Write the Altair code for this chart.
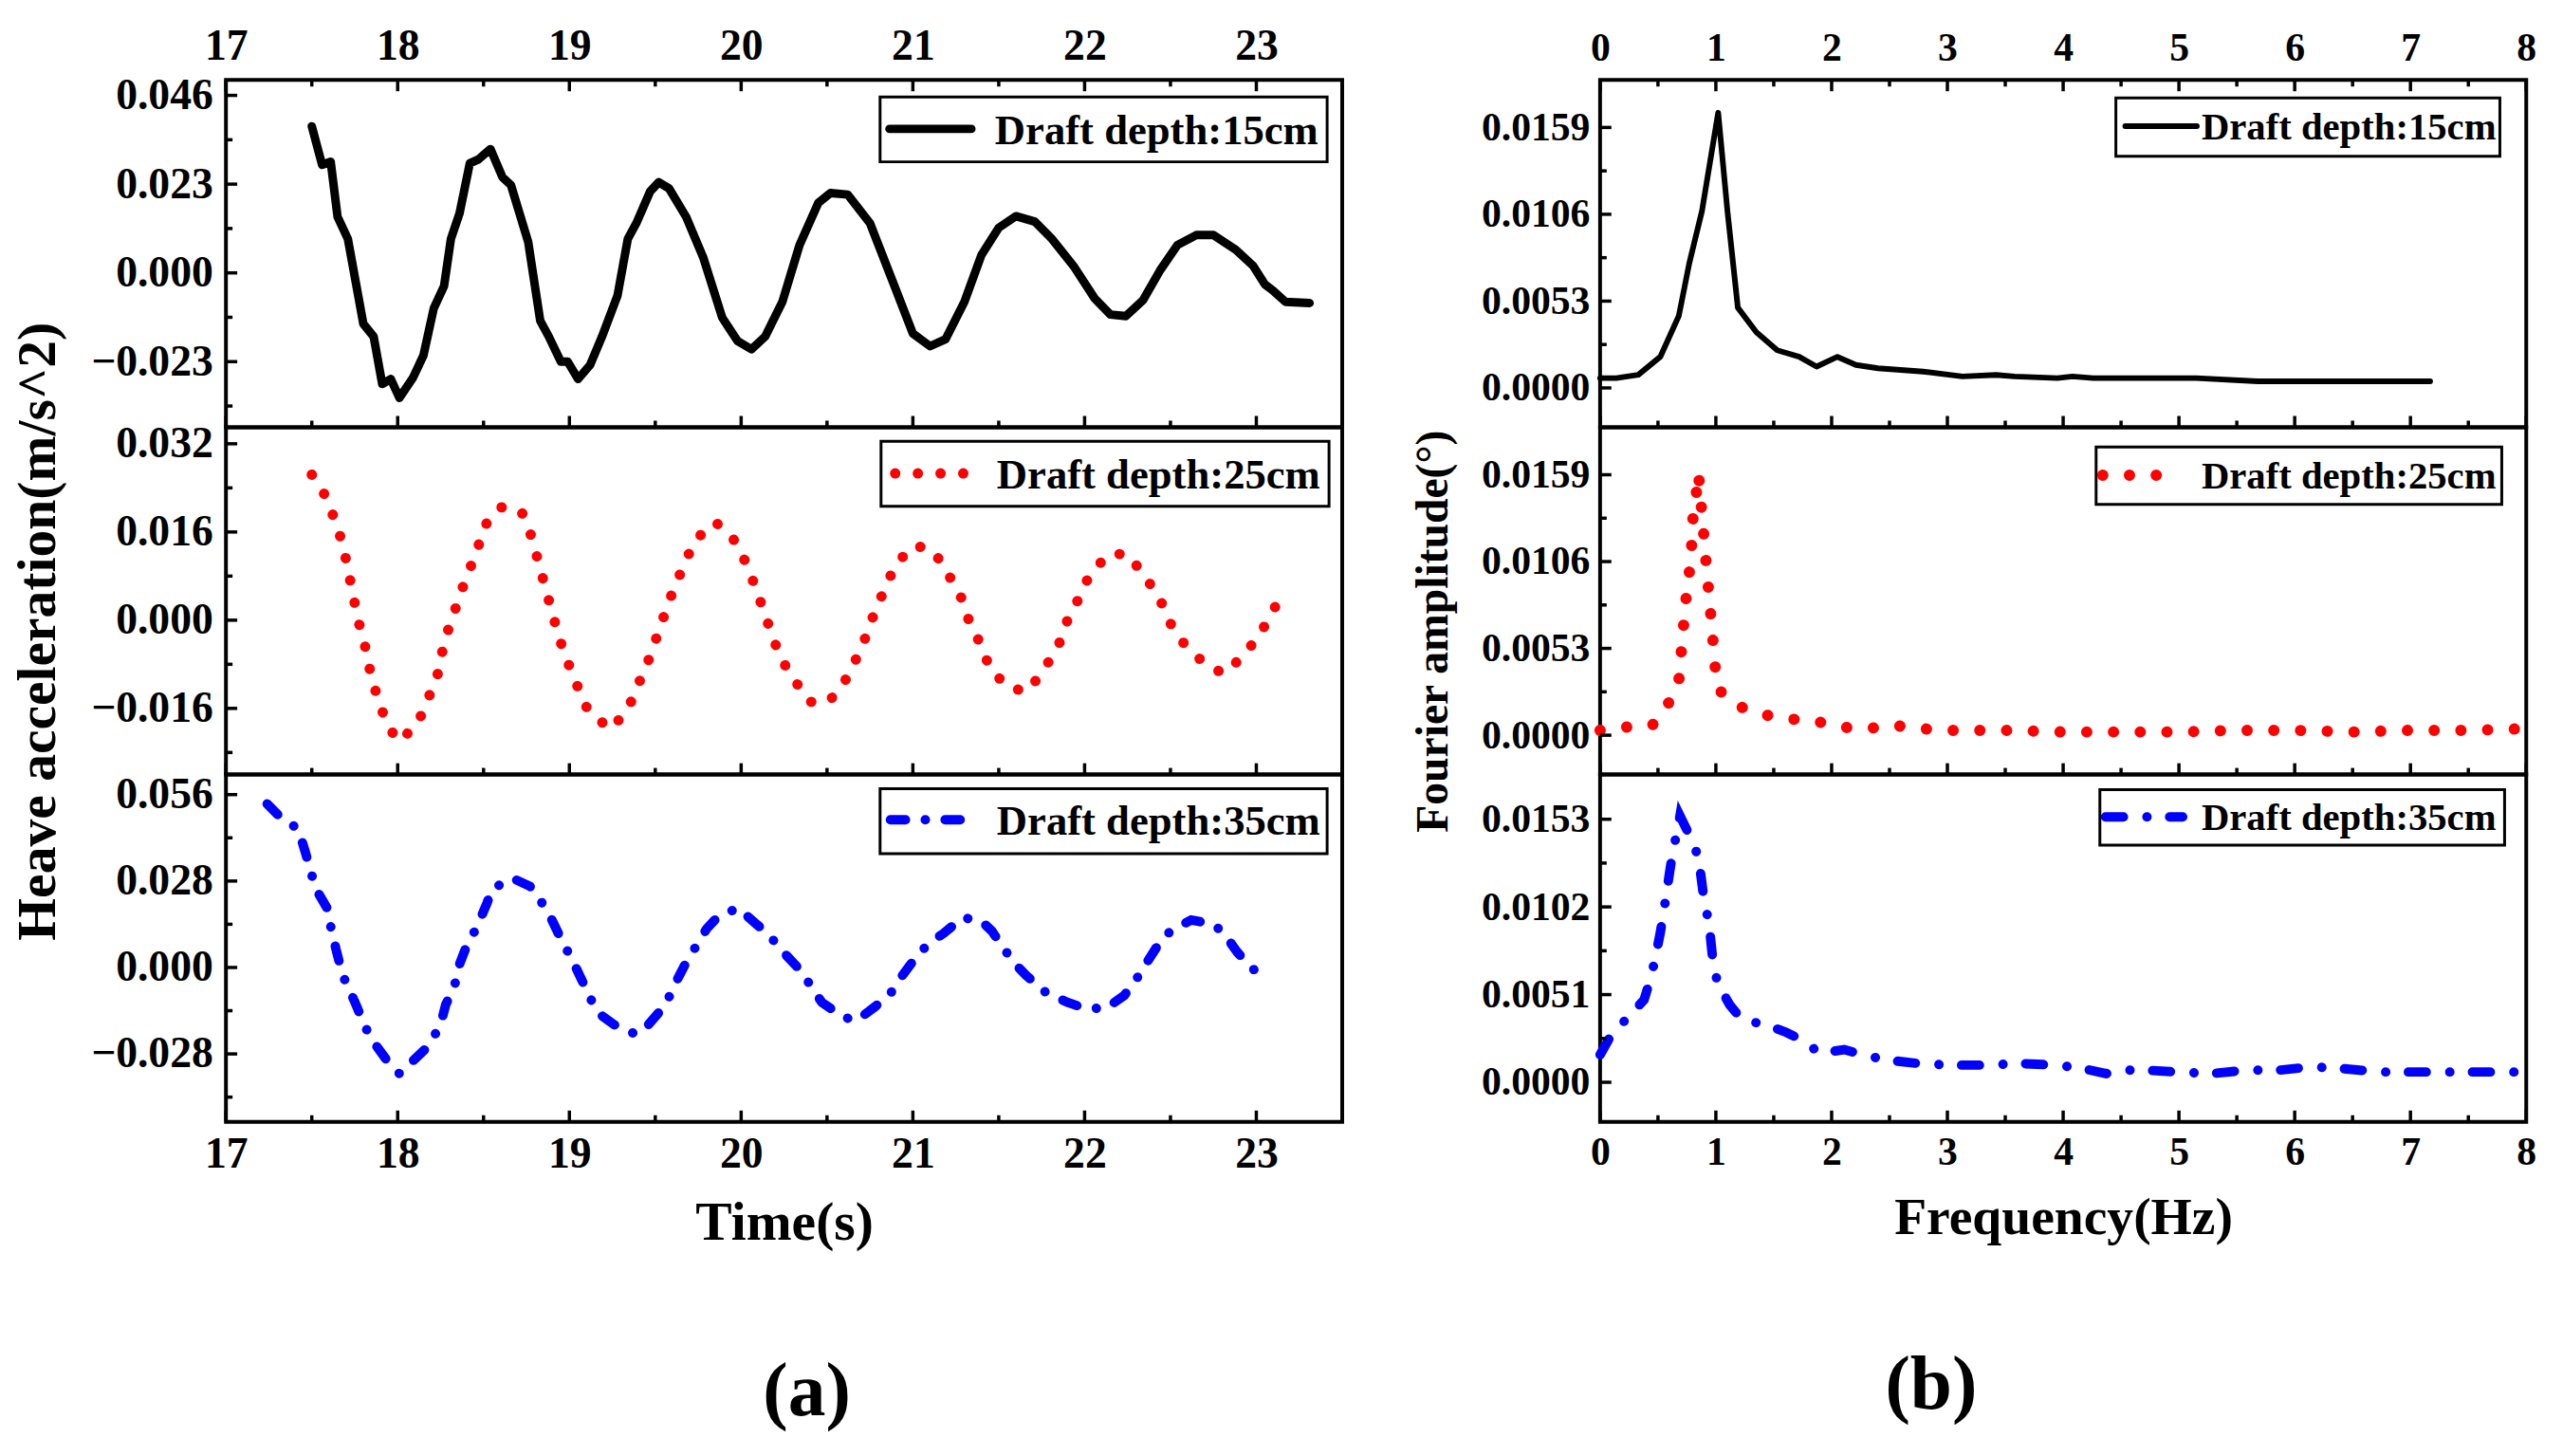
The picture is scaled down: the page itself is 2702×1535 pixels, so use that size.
import altair as alt
import pandas as pd

SERIF = "Liberation Serif"

# ---- (a) heave acceleration time histories ----
t15 = [17.50, 17.56, 17.61, 17.65, 17.71, 17.80, 17.86, 17.91, 17.96, 18.01,
       18.09, 18.15, 18.21, 18.27, 18.31, 18.36, 18.42, 18.47, 18.54, 18.61,
       18.66, 18.76, 18.83, 18.88, 18.95, 18.99, 19.05, 19.12, 19.19, 19.28,
       19.34, 19.39, 19.47, 19.52, 19.58, 19.68, 19.78, 19.89, 19.98, 20.06,
       20.14, 20.24, 20.34, 20.45, 20.52, 20.62, 20.75, 20.90, 21.00, 21.10,
       21.19, 21.30, 21.40, 21.50, 21.60, 21.71, 21.81, 21.94, 22.06, 22.15,
       22.24, 22.34, 22.44, 22.54, 22.65, 22.75, 22.88, 22.98, 23.05, 23.10,
       23.17, 23.31]
a15 = [0.0380, 0.0280, 0.0288, 0.0145, 0.0088, -0.0132, -0.0165, -0.0288, -0.0275, -0.0324,
       -0.0271, -0.0214, -0.0092, -0.0034, 0.0088, 0.0154, 0.0284, 0.0294, 0.0321, 0.0248,
       0.0227, 0.0080, -0.0124, -0.0165, -0.0230, -0.0230, -0.0275, -0.0239, -0.0165, -0.0059,
       0.0088, 0.0129, 0.0211, 0.0235, 0.0219, 0.0145, 0.0039, -0.0116, -0.0177, -0.0198,
       -0.0165, -0.0075, 0.0072, 0.0182, 0.0207, 0.0203, 0.0129, -0.0042, -0.0157, -0.0190,
       -0.0172, -0.0075, 0.0047, 0.0117, 0.0147, 0.0133, 0.0088, 0.0015, -0.0067, -0.0108,
       -0.0112, -0.0071, 0.0007, 0.0072, 0.0098, 0.0098, 0.0060, 0.0019, -0.0030, -0.0047,
       -0.0075, -0.0078]

t25 = [17.50, 17.58, 17.63, 17.68, 17.71, 17.74, 17.77, 17.81, 17.84, 17.88,
       17.93, 18.00, 18.11, 18.17, 18.23, 18.26, 18.30, 18.35, 18.40, 18.46,
       18.50, 18.60, 18.72, 18.78, 18.82, 18.86, 18.90, 18.94, 18.99, 19.05,
       19.11, 19.24, 19.34, 19.40, 19.46, 19.51, 19.56, 19.61, 19.67, 19.73,
       19.85, 19.95, 20.02, 20.08, 20.13, 20.18, 20.23, 20.32, 20.40, 20.51,
       20.60, 20.67, 20.73, 20.78, 20.84, 20.90, 21.01, 21.12, 21.21, 21.28,
       21.33, 21.40, 21.45, 21.56, 21.67, 21.77, 21.85, 21.90, 21.97, 22.03,
       22.14, 22.25, 22.36, 22.44, 22.50, 22.58, 22.70, 22.81, 22.92, 23.02,
       23.10, 23.17]
a25 = [0.0264, 0.0225, 0.0185, 0.0138, 0.0093, 0.0046, 0.0000, -0.0047, -0.0093, -0.0138,
       -0.0182, -0.0220, -0.0192, -0.0148, -0.0102, -0.0057, -0.0011, 0.0033, 0.0079, 0.0123,
       0.0169, 0.0205, 0.0198, 0.0151, 0.0105, 0.0059, 0.0014, -0.0032, -0.0076, -0.0122,
       -0.0165, -0.0198, -0.0162, -0.0117, -0.0073, -0.0029, 0.0016, 0.0059, 0.0102, 0.0145,
       0.0178, 0.0150, 0.0109, 0.0063, 0.0018, -0.0027, -0.0069, -0.0113, -0.0148, -0.0148,
       -0.0113, -0.0070, -0.0027, 0.0017, 0.0059, 0.0102, 0.0136, 0.0126, 0.0081, 0.0042,
       -0.0004, -0.0047, -0.0089, -0.0123, -0.0129, -0.0086, -0.0044, 0.0000, 0.0042, 0.0083,
       0.0120, 0.0120, 0.0076, 0.0037, -0.0006, -0.0043, -0.0079, -0.0097, -0.0066, -0.0026,
       0.0019, 0.0057]

t35 = [17.24, 17.33, 17.42, 17.46, 17.49, 17.52, 17.59, 17.61, 17.64, 17.68,
       17.71, 17.76, 17.81, 17.86, 17.94, 18.01, 18.08, 18.18, 18.25, 18.28,
       18.33, 18.36, 18.40, 18.46, 18.52, 18.55, 18.67, 18.77, 18.83, 18.90,
       18.96, 19.01, 19.07, 19.12, 19.17, 19.26, 19.39, 19.46, 19.56, 19.62,
       19.67, 19.72, 19.80, 19.86, 19.98, 20.09, 20.16, 20.24, 20.35, 20.40,
       20.47, 20.59, 20.67, 20.78, 20.87, 20.92, 21.00, 21.09, 21.18, 21.29,
       21.40, 21.46, 21.54, 21.61, 21.66, 21.77, 21.90, 21.99, 22.12, 22.23,
       22.29, 22.36, 22.43, 22.50, 22.62, 22.75, 22.81, 22.89, 22.98, 23.05]
a35 = [0.0530, 0.0479, 0.0450, 0.0378, 0.0320, 0.0258, 0.0191, 0.0133, 0.0061, -0.0026,
       -0.0062, -0.0124, -0.0192, -0.0242, -0.0303, -0.0344, -0.0307, -0.0254, -0.0185, -0.0120,
       -0.0062, 0.0010, 0.0068, 0.0130, 0.0208, 0.0255, 0.0289, 0.0263, 0.0219, 0.0152,
       0.0082, 0.0032, -0.0038, -0.0098, -0.0149, -0.0185, -0.0217, -0.0185, -0.0120, -0.0048,
       0.0006, 0.0053, 0.0126, 0.0162, 0.0193, 0.0140, 0.0107, 0.0053, -0.0012, -0.0055,
       -0.0113, -0.0159, -0.0173, -0.0127, -0.0084, -0.0040, 0.0020, 0.0078, 0.0111, 0.0162,
       0.0150, 0.0118, 0.0053, 0.0003, -0.0026, -0.0079, -0.0113, -0.0130, -0.0134, -0.0091,
       -0.0048, 0.0014, 0.0075, 0.0118, 0.0154, 0.0140, 0.0111, 0.0049, -0.0004, -0.0038]

# ---- (b) Fourier amplitude spectra ----
f15 = [0.00, 0.14, 0.33, 0.52, 0.68, 0.77, 0.88, 1.02, 1.10, 1.19,
       1.35, 1.53, 1.72, 1.87, 2.05, 2.21, 2.40, 2.79, 3.13, 3.42,
       3.58, 3.95, 4.08, 4.26, 5.15, 5.68, 6.36, 7.17]
s15 = [0.0006, 0.0006, 0.0008, 0.0019, 0.0044, 0.0076, 0.0108, 0.0168, 0.0108, 0.0049,
       0.0034, 0.0023, 0.0019, 0.0013, 0.0019, 0.0014, 0.0012, 0.0010, 0.0007, 0.0008,
       0.0007, 0.0006, 0.0007, 0.0006, 0.0006, 0.0004, 0.0004, 0.0004]

f25 = [0.00, 0.23, 0.45, 0.58, 0.68, 0.70, 0.72, 0.74, 0.77, 0.79,
       0.80, 0.83, 0.85, 0.87, 0.89, 0.91, 0.93, 0.95, 0.97, 0.99,
       1.01, 1.15, 1.38, 1.61, 1.84, 2.07, 2.30, 2.54, 2.77, 3.00,
       3.50, 4.00, 4.50, 5.00, 5.50, 6.00, 6.50, 7.00, 7.50, 8.00]
s25 = [0.0003, 0.0005, 0.0006, 0.0018, 0.0033, 0.0050, 0.0066, 0.0082, 0.0099, 0.0115,
       0.0131, 0.0147, 0.0160, 0.0143, 0.0127, 0.0110, 0.0094, 0.0078, 0.0062, 0.0045,
       0.0029, 0.0019, 0.0013, 0.0010, 0.0009, 0.0005, 0.0004, 0.0006, 0.0004, 0.0003,
       0.0003, 0.0002, 0.0002, 0.0002, 0.0003, 0.0003, 0.0002, 0.0003, 0.0003, 0.0004]

f35 = [0.00, 0.10, 0.23, 0.38, 0.43, 0.47, 0.52, 0.57, 0.60, 0.63,
       0.67, 0.69, 0.77, 0.85, 0.90, 0.94, 0.98, 1.02, 1.12, 1.23,
       1.41, 1.61, 1.73, 1.90, 2.11, 2.27, 2.47, 2.74, 3.03, 3.37,
       3.60, 3.95, 4.17, 4.37, 4.52, 4.73, 4.99, 5.28, 5.57, 5.86,
       6.15, 6.41, 6.73, 6.99, 7.30, 7.57, 7.96]
s35 = [0.0016, 0.0028, 0.0037, 0.0048, 0.0059, 0.0070, 0.0087, 0.0108, 0.0122, 0.0135,
       0.0147, 0.0155, 0.0144, 0.0131, 0.0105, 0.0093, 0.0067, 0.0057, 0.0045, 0.0036,
       0.0034, 0.0029, 0.0025, 0.0017, 0.0019, 0.0016, 0.0013, 0.0011, 0.0010, 0.0010,
       0.0011, 0.0010, 0.0008, 0.0005, 0.0007, 0.0007, 0.0006, 0.0005, 0.0007, 0.0007,
       0.0009, 0.0008, 0.0006, 0.0006, 0.0006, 0.0006, 0.0006]

labels = ["Draft depth:15cm", "Draft depth:25cm", "Draft depth:35cm"]

# ---- axes: domains and tick values ----
time_dom = [17, 23.5]
time_major = [17, 18, 19, 20, 21, 22, 23]
time_minor = [17.5, 18.5, 19.5, 20.5, 21.5, 22.5]
freq_dom = [0, 8]
freq_major = [0, 1, 2, 3, 4, 5, 6, 7, 8]
freq_minor = [0.5, 1.5, 2.5, 3.5, 4.5, 5.5, 6.5, 7.5]

acc_doms = [[-0.040, 0.050], [-0.028, 0.035], [-0.050, 0.0625]]
acc_major = [[-0.023, 0.0, 0.023, 0.046], [-0.016, 0.0, 0.016, 0.032], [-0.028, 0.0, 0.028, 0.056]]
acc_minor = [[-0.0345, -0.0115, 0.0115, 0.0345], [-0.024, -0.008, 0.008, 0.024], [-0.042, -0.014, 0.014, 0.042]]
amp_doms = [[-0.0024, 0.0188], [-0.0024, 0.0188], [-0.0023, 0.0179]]
amp_major = [[0.0, 0.0053, 0.0106, 0.0159], [0.0, 0.0053, 0.0106, 0.0159], [0.0, 0.0051, 0.0102, 0.0153]]
amp_minor = [[0.00265, 0.00795, 0.01325], [0.00265, 0.00795, 0.01325], [0.00255, 0.00765, 0.01275]]

H = 369
LW, RW = 1186, 984


def panel(t, v, xdom, ydom, xmaj, xmin, ymaj, ymin, w, yfmt, lab_size,
          style, leg, top=False, xtitle=None, ytitle=None, ytitle_size=58, ytitle_pad=28):
    xs = alt.Scale(domain=xdom, nice=False, zero=False)
    ys = alt.Scale(domain=ydom, nice=False, zero=False)

    yaxis = alt.Axis(values=ymaj, format=yfmt, labelFontSize=lab_size, labelPadding=14 if w == LW else 11,
                     title=ytitle, titleFontSize=ytitle_size, titlePadding=ytitle_pad,
                     titleY=H / 2 + 32)
    if xtitle is not None:
        xaxis = alt.Axis(values=xmaj, format="d", labelFontSize=lab_size, labelPadding=12,
                         labelFlush=False, title=xtitle, titleFontSize=58 if w == LW else 56,
                         titlePadding=22)
    else:
        xaxis = None

    line = alt.Chart(pd.DataFrame({"t": t, "v": v})).mark_line(**style).encode(
        x=alt.X("t:Q", scale=xs, axis=xaxis),
        y=alt.Y("v:Q", scale=ys, axis=yaxis),
    )

    layers = [line]
    # inward tick marks on the bottom (and top) frame
    for vals, size in ((xmaj, 12), (xmin, 7)):
        layers.append(
            alt.Chart(pd.DataFrame({"t": vals})).mark_rule(color="black", strokeWidth=3.5).encode(
                x=alt.X("t:Q", scale=xs, axis=None), y=alt.value(H), y2=alt.value(H - size)))
        if top:
            ax = None
            if size == 12:
                ax = alt.Axis(orient="top", values=xmaj, format="d", labelFontSize=lab_size,
                              labelPadding=12, labelFlush=False, title=None)
            layers.append(
                alt.Chart(pd.DataFrame({"t": vals})).mark_rule(color="black", strokeWidth=3.5).encode(
                    x=alt.X("t:Q", scale=xs, axis=ax), y=alt.value(0), y2=alt.value(size)))
    # inward tick marks on the left frame
    for vals, size in ((ymaj, 12), (ymin, 7)):
        layers.append(
            alt.Chart(pd.DataFrame({"v": vals})).mark_rule(color="black", strokeWidth=3.5).encode(
                y=alt.Y("v:Q", scale=ys, axis=None), x=alt.value(0), x2=alt.value(size)))

    # legend box
    ldf = pd.DataFrame({"label": [leg["label"]]})
    bx0, bx1, by0, by1 = leg["box"]
    sx0, sx1, sy = leg["sample"]
    layers.append(alt.Chart(ldf).mark_rect(fill="white", stroke="black", strokeWidth=3).encode(
        x=alt.value(bx0), x2=alt.value(bx1), y=alt.value(by0), y2=alt.value(by1)))
    layers.append(alt.Chart(ldf).mark_rule(**leg["style"]).encode(
        x=alt.value(sx0), x2=alt.value(sx1), y=alt.value(sy)))
    layers.append(alt.Chart(ldf).mark_text(align="left", baseline="middle", font=SERIF,
                                           fontWeight="bold", fontSize=leg["size"], color="black").encode(
        x=alt.value(leg["tx"]), y=alt.value(sy + 2), text="label:N"))

    return (alt.layer(*layers)
            .resolve_axis(x="independent", y="independent")
            .properties(width=w, height=H))


black_l = dict(color="black", strokeWidth=9, strokeCap="round", strokeJoin="round")
red_l = dict(color="#ff0000", strokeWidth=11, strokeDash=[0.1, 24], strokeCap="round")
blue_l = dict(color="#0000ff", strokeWidth=10, strokeDash=[16, 21, 0.1, 21], strokeCap="round")
black_r = dict(color="black", strokeWidth=6, strokeCap="round", strokeJoin="round")
red_r = dict(color="#ff0000", strokeWidth=12, strokeDash=[0.1, 28.3], strokeCap="round")
blue_r = dict(color="#0000ff", strokeWidth=10, strokeDash=[19, 25, 0.1, 24], strokeCap="round")

left_panels = [
    panel(t15, a15, time_dom, acc_doms[0], time_major, time_minor, acc_major[0], acc_minor[0], LW, ".3f", 46,
          black_l, dict(label=labels[0], box=(695, 1170, 18, 87), sample=(705, 792, 52), tx=817, size=45,
                        style=black_l), top=True),
    panel(t25, a25, time_dom, acc_doms[1], time_major, time_minor, acc_major[1], acc_minor[1], LW, ".3f", 46,
          red_l, dict(label=labels[1], box=(696, 1172, 15, 84), sample=(711, 784, 49), tx=819, size=45,
                      style=red_l),
          ytitle="Heave acceleration(m/s^2)", ytitle_size=58, ytitle_pad=26),
    panel(t35, a35, time_dom, acc_doms[2], time_major, time_minor, acc_major[2], acc_minor[2], LW, ".3f", 46,
          blue_l, dict(label=labels[2], box=(695, 1170, 15, 84), sample=(706, 786, 48), tx=819, size=45,
                       style=blue_l), xtitle="Time(s)"),
]

right_panels = [
    panel(f15, s15, freq_dom, amp_doms[0], freq_major, freq_minor, amp_major[0], amp_minor[0], RW, ".4f", 42,
          black_r, dict(label=labels[0], box=(548, 956, 19, 81), sample=(558, 634, 49), tx=639, size=41,
                        style=black_r), top=True),
    panel(f25, s25, freq_dom, amp_doms[1], freq_major, freq_minor, amp_major[1], amp_minor[1], RW, ".4f", 42,
          red_r, dict(label=labels[1], box=(527, 958, 21, 82), sample=(534, 619, 51), tx=639, size=41,
                      style=red_r),
          ytitle="Fourier amplitude(°)", ytitle_size=48, ytitle_pad=26),
    panel(f35, s35, freq_dom, amp_doms[2], freq_major, freq_minor, amp_major[2], amp_minor[2], RW, ".4f", 42,
          blue_r, dict(label=labels[2], box=(531, 961, 16, 75), sample=(537, 619, 45), tx=639, size=41,
                       style=blue_r), xtitle="Frequency(Hz)"),
]

left = alt.vconcat(*left_panels, spacing=0, bounds="flush").properties(
    title=alt.TitleParams("(a)", orient="bottom", anchor="middle", fontSize=80, font=SERIF,
                          fontWeight="bold", offset=110, dx=138))
right = alt.vconcat(*right_panels, spacing=0, bounds="flush").properties(
    title=alt.TitleParams("(b)", orient="bottom", anchor="middle", fontSize=80, font=SERIF,
                          fontWeight="bold", offset=110, dx=-52))

chart = (
    alt.hconcat(left, right, spacing=69)
    .properties(padding={"left": 2, "top": 10, "right": 5, "bottom": 0}, background="white")
    .configure_view(stroke="black", strokeWidth=4)
    .configure_axis(grid=False, ticks=False, domain=False, labelFont=SERIF, labelFontWeight="bold",
                    labelColor="black", titleFont=SERIF, titleFontWeight="bold", titleColor="black",
                    labelOverlap=False)
)

chart.save("out.html", embed_options={"renderer": "svg", "actions": False})
